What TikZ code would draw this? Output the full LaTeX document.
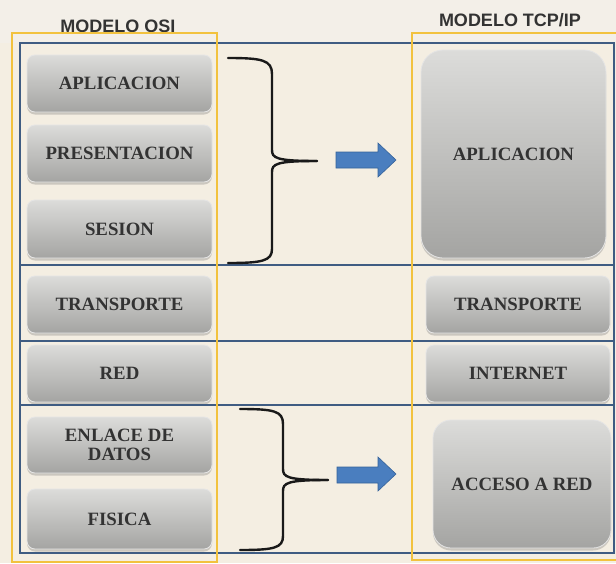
\documentclass[tikz,border=0pt]{standalone}
\usepackage{fontspec}
\setmainfont{Liberation Serif}
\newfontfamily\titlefont{Liberation Sans}
\usetikzlibrary{shadows}

\definecolor{bg}{HTML}{F4EEE2}
\definecolor{bgtop}{HTML}{F3EFE8}
\definecolor{frameblue}{HTML}{3F5C82}
\definecolor{frameyellow}{HTML}{F2C23E}
\definecolor{boxtop}{HTML}{DCDCDA}
\definecolor{boxbot}{HTML}{A4A4A2}
\definecolor{txt}{HTML}{333333}
\definecolor{arrowblue}{HTML}{4A7EBF}
\definecolor{arrowedge}{HTML}{35639A}

\begin{document}
\begin{tikzpicture}[x=1pt,y=-1pt,
  layerbox/.style={rounded corners=8pt, top color=boxtop, bottom color=boxbot,
    draw=white!80!gray, line width=0.8pt,
    font=\bfseries\fontsize{18.8}{19.5}\selectfont, text=txt, align=center,
    inner sep=0pt, minimum width=185pt, minimum height=57pt,
    drop shadow={shadow xshift=0pt, shadow yshift=-2.5pt, opacity=0.35}},
  bigbox/.style={layerbox, rounded corners=22pt},
  title/.style={font=\titlefont\bfseries\fontsize{18}{20}\selectfont, text=txt, inner sep=0pt},
  blueline/.style={draw=frameblue, line width=2pt},
  yellowline/.style={draw=frameyellow, line width=2.5pt},
  bracket/.style={draw=black!90, line width=2.4pt, line cap=round},
  fatarrow/.style={fill=arrowblue, draw=arrowedge, line width=0.6pt}]

\useasboundingbox (0,0) rectangle (616,563);
\fill[bg] (0,0) rectangle (616,563);
\fill[bgtop] (0,0) rectangle (616,43);

% titles
\node[title] (tosi) at (118,26) {MODELO OSI};
\node[title] (ttcp) at (510,20) {MODELO TCP/IP};

% OSI layers
\node[layerbox] (apl) at (119.5,83.5) {APLICACION};
\node[layerbox] (pre) at (119.5,153.5) {PRESENTACION};
\node[layerbox, minimum height=58pt] (ses) at (119.5,229) {SESION};
\node[layerbox] (tra) at (119.5,304.5) {TRANSPORTE};
\node[layerbox] (red) at (119.5,373.5) {RED};
\node[layerbox, minimum height=56pt] (enl) at (119.5,445) {ENLACE DE\\DATOS};
\node[layerbox, minimum height=60pt] (fis) at (119.5,519) {FISICA};

% TCP/IP layers
\node[bigbox, minimum height=208pt] (tapl) at (513.5,154) {APLICACION};
\node[layerbox, minimum width=184pt] (ttra) at (518,304.5) {TRANSPORTE};
\node[layerbox, minimum width=184pt] (tint) at (518,373.5) {INTERNET};
\node[bigbox, rounded corners=18pt, minimum width=178pt, minimum height=128pt] (tacc) at (522,484) {ACCESO A RED};

% blue frame
\draw[blueline] (20,43) rectangle (614,553);
\draw[blueline] (20,265) -- (614,265);
\draw[blueline] (20,341) -- (614,341);
\draw[blueline] (20,405) -- (614,405);

% yellow frames
\draw[yellowline] (12,33) rectangle (217,562);
\draw[yellowline] (412,33) rectangle (618,560);

% braces
\coordinate (b1tip) at (317,161);
\draw[bracket] (228,58) .. controls (262,58) and (272,60) .. (272,74)
  -- (272,150) .. controls (272,158) and (276,161) .. (b1tip);
\draw[bracket] (b1tip) .. controls (276,161) and (272,164) .. (272,172)
  -- (272,249) .. controls (272,261) and (262,263) .. (228,263);

\coordinate (b2tip) at (328,480);
\draw[bracket] (240,409) .. controls (274,409) and (283,411) .. (283,424)
  -- (283,469) .. controls (283,477) and (287,480) .. (b2tip);
\draw[bracket] (b2tip) .. controls (287,480) and (283,483) .. (283,491)
  -- (283,536) .. controls (283,548) and (274,550) .. (240,550);

% arrows
\draw[fatarrow] (336,152) -- (378,152) -- (378,143) -- (396,160) -- (378,177)
  -- (378,168) -- (336,168) -- cycle;
\draw[fatarrow] (337,467) -- (378,467) -- (378,457) -- (396,474) -- (378,491)
  -- (378,483) -- (337,483) -- cycle;

\end{tikzpicture}
\end{document}
